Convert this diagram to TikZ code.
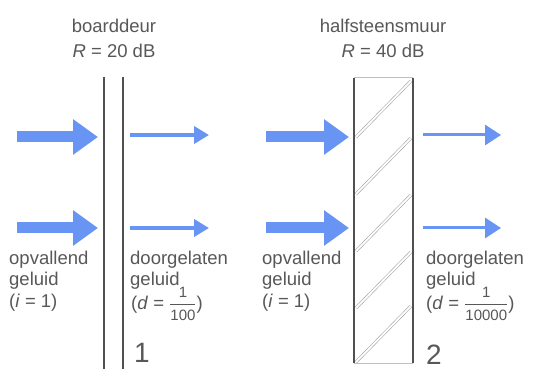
\documentclass[tikz,border=0pt]{standalone}
\usepackage{fontspec}
\setmainfont{Liberation Sans}
\usetikzlibrary{arrows.meta}
\definecolor{arrblue}{RGB}{104,148,244}
\definecolor{txtgray}{RGB}{88,88,88}
\definecolor{linegray}{RGB}{80,80,80}
\newcommand{\fr}[2]{$\displaystyle\frac{\hbox{\fontsize{15}{15}\selectfont #1}}{\hbox{\fontsize{15}{15}\selectfont #2}}$}
\tikzset{
  lbl/.style={inner sep=0pt, text=txtgray, font=\fontsize{18.5}{22}\selectfont},
  toplbl/.style={lbl, anchor=base},
  side/.style={lbl, anchor=base west},
  bignum/.style={inner sep=0pt, text=txtgray, font=\fontsize{28}{28}\selectfont, anchor=base west},
  bigarrow/.style={draw=arrblue, line width=11pt, -{Triangle[length=25pt,width=34pt]}},
  doorarrow/.style={draw=arrblue, line width=4pt, -{Triangle[length=15pt,width=17pt]}},
  wallarrow/.style={draw=arrblue, line width=3pt, -{Triangle[length=16pt,width=20pt]}},
  doorline/.style={draw=linegray, line width=2pt},
  wallline/.style={draw=linegray, line width=2pt},
  wallcap/.style={draw=gray!50, line width=1pt},
  hatch/.style={draw=gray!70, line width=0.6pt, double=white, double distance=1.8pt},
}
\begin{document}
\begin{tikzpicture}[x=1pt,y=-1pt]
\path[use as bounding box, fill=white] (0,0) rectangle (542,369);

% door
\coordinate (d1t) at (104,77); \coordinate (d1b) at (104,369);
\coordinate (d2t) at (123,77); \coordinate (d2b) at (123,369);
\draw[doorline] (d1t) -- (d1b);
\draw[doorline] (d2t) -- (d2b);

% wall
\coordinate (wtl) at (354,78); \coordinate (wtr) at (413,78);
\coordinate (wbl) at (354,363); \coordinate (wbr) at (413,363);
\draw[wallcap] (wtl) -- (wtr);
\draw[wallcap] (wbl) -- (wbr);
\foreach \y [count=\i] in {137,194,251,308,362} {
  \coordinate (h\i a) at (356,\y);
  \coordinate (h\i b) at (411,\y-56);
  \draw[hatch] (h\i a) -- (h\i b);
}
\draw[wallline] (wtl) -- (wbl);
\draw[wallline] (wtr) -- (wbr);

% arrows
\coordinate (a1s) at (17,137); \coordinate (a1e) at (98,137);
\coordinate (a2s) at (17,228); \coordinate (a2e) at (98,228);
\draw[bigarrow] (a1s) -- (a1e);
\draw[bigarrow] (a2s) -- (a2e);
\coordinate (b1s) at (130,135); \coordinate (b1e) at (209,135);
\coordinate (b2s) at (130,228); \coordinate (b2e) at (209,228);
\draw[doorarrow] (b1s) -- (b1e);
\draw[doorarrow] (b2s) -- (b2e);
\coordinate (c1s) at (266,137); \coordinate (c1e) at (349,137);
\coordinate (c2s) at (266,228); \coordinate (c2e) at (349,228);
\draw[bigarrow] (c1s) -- (c1e);
\draw[bigarrow] (c2s) -- (c2e);
\coordinate (e1s) at (423,135); \coordinate (e1e) at (501,135);
\coordinate (e2s) at (423,228); \coordinate (e2e) at (501,228);
\draw[wallarrow] (e1s) -- (e1e);
\draw[wallarrow] (e2s) -- (e2e);

% top labels
\node[toplbl] (t1) at (114,33) {boarddeur};
\node[toplbl] (t2) at (114,58) {\textit{R} = 20 dB};
\node[toplbl] (t3) at (383,33) {halfsteensmuur};
\node[toplbl] (t4) at (383,58) {\textit{R} = 40 dB};

% side labels door
\node[side] (l1) at (9,265) {opvallend};
\node[side] (l2) at (9,286) {geluid};
\node[side] (l3) at (9,308) {(\textit{i} = 1)};
\node[side] (r1) at (130,265) {doorgelaten};
\node[side] (r2) at (130,286) {geluid};
\node[side] (r3) at (131,309) {(\textit{d} = \fr{1}{100})};
\node[bignum] (n1) at (134,362) {1};

% side labels wall
\node[side] (m1) at (262,265) {opvallend};
\node[side] (m2) at (262,286) {geluid};
\node[side] (m3) at (262,308) {(\textit{i} = 1)};
\node[side] (s1) at (426,265) {doorgelaten};
\node[side] (s2) at (426,286) {geluid};
\node[side] (s3) at (426,309) {(\textit{d} = \fr{1}{10000})};
\node[bignum] (n2) at (426,364) {2};
\end{tikzpicture}
\end{document}
